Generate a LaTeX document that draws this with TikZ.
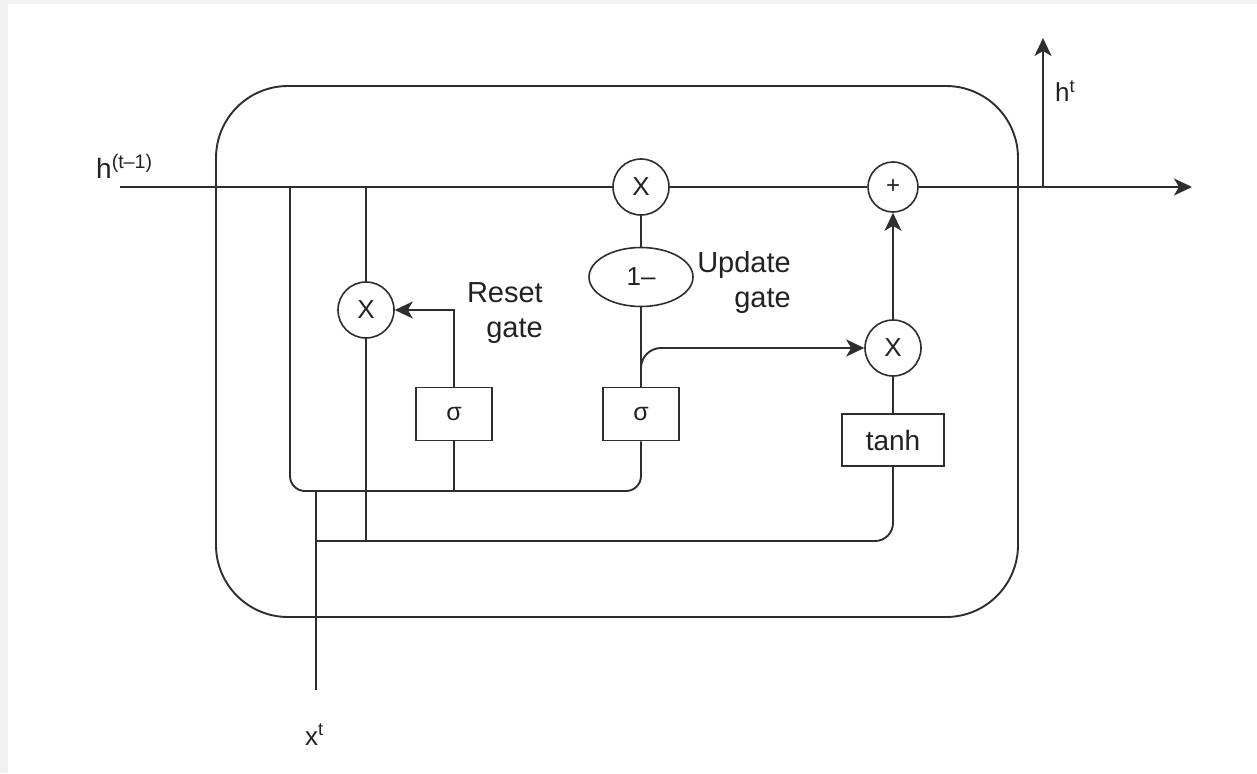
\documentclass[tikz,border=0pt]{standalone}
\usepackage{fontspec}
\setmainfont{Liberation Sans}
\usetikzlibrary{arrows.meta,shapes.geometric}
\definecolor{ln}{HTML}{2E2E2E}
\definecolor{tx}{HTML}{222222}
\definecolor{frame}{HTML}{F1F1F1}
\begin{document}
\begin{tikzpicture}[x=1pt,y=-1pt,
  wire/.style={draw=ln,line width=1.9pt},
  arr/.style={wire,-{Stealth[length=18pt,width=17pt,inset=5pt]}},
  opc/.style={circle,draw=ln,line width=1.6pt,fill=white,minimum size=56pt,inner sep=0pt,text=tx,font=\fontsize{26}{26}\selectfont},
  gbox/.style={rectangle,draw=ln,line width=1.6pt,fill=white,minimum width=76pt,minimum height=53pt,inner sep=0pt,text=tx,font=\fontsize{25}{25}\selectfont},
  lbl/.style={text=tx,font=\fontsize{26}{26}\selectfont,inner sep=0pt},
  gatelbl/.style={text=tx,align=right,font=\fontsize{29}{35}\selectfont,inner sep=0pt}]
% background / page frame
\fill[frame] (0,0) rectangle (1257,773);
\fill[white] (8,4) rectangle (1257,773);
\useasboundingbox (0,0) rectangle (1257,773);
% outer cell
\draw[wire,rounded corners=72pt] (216,86) rectangle (1018,617);
% coordinates
\coordinate (hin) at (120,187);
\coordinate (hout) at (1192,187);
\coordinate (j1) at (290,187);
\coordinate (j2) at (366,187);
\coordinate (jh) at (1043,187);
\coordinate (htop) at (1043,38);
\coordinate (bl1) at (290,491);
\coordinate (br1) at (641,491);
\coordinate (s1b) at (454,491);
\coordinate (xbot) at (316,690);
\coordinate (x1) at (316,491);
\coordinate (x2) at (316,541);
\coordinate (r2) at (366,541);
\coordinate (t2) at (893,541);
\coordinate (brs) at (641,374);
% nodes
\node[opc] (rx) at (366,310) {X};
\node[gbox] (s1) at (454,414) {σ};
\node[opc] (ux) at (641,187) {X};
\node[ellipse,draw=ln,line width=1.6pt,fill=white,minimum width=104pt,minimum height=59pt,inner sep=0pt,text=tx,font=\fontsize{26}{26}\selectfont] (om) at (641,277) {1–};
\node[gbox] (s2) at (641,414) {σ};
\node[opc] (tx) at (893,348) {X};
\node[gbox,minimum width=102pt,minimum height=52pt,font=\fontsize{28}{28}\selectfont] (th) at (893,440) {tanh};
\node[opc,minimum size=50pt,font=\fontsize{24}{24}\selectfont] (pl) at (893,187) {+};
% labels
\node[lbl,anchor=base west,font=\fontsize{28}{28}\selectfont] (lhin) at (96,178) {h\textsuperscript{(t–1)}};
\node[lbl,anchor=base west] (lhout) at (1055,102) {h\textsuperscript{t}};
\node[lbl,anchor=base west] (lx) at (305,745) {x\textsuperscript{t}};
\node[gatelbl,anchor=east] (lreset) at (543,313) {Reset\\gate};
\node[gatelbl,anchor=east] (lupdate) at (791,282) {Update\\gate};
% main line
\draw[wire] (hin) -- (ux.west);
\draw[wire] (ux.east) -- (pl.west);
\draw[arr] (pl.east) -- (hout);
\draw[arr] (jh) -- (htop);
% reset path
\draw[wire,rounded corners=15pt] (j1) -- (bl1) -- (br1) -- (s2.south);
\draw[wire] (j2) -- (rx.north);
\draw[wire] (rx.south) -- (r2);
\draw[wire] (s1.south) -- (s1b);
\draw[arr] (s1.north) |- (rx.east);
% input
\draw[wire] (xbot) -- (x1);
\draw[wire,rounded corners=18pt] (x2) -- (t2) -- (th.south);
% update path
\draw[wire] (ux.south) -- (om.north);
\draw[wire] (om.south) -- (s2.north);
\draw[arr,rounded corners=20pt] (brs) |- (tx.west);
\draw[wire] (th.north) -- (tx.south);
\draw[arr] (tx.north) -- (pl.south);
\end{tikzpicture}
\end{document}
